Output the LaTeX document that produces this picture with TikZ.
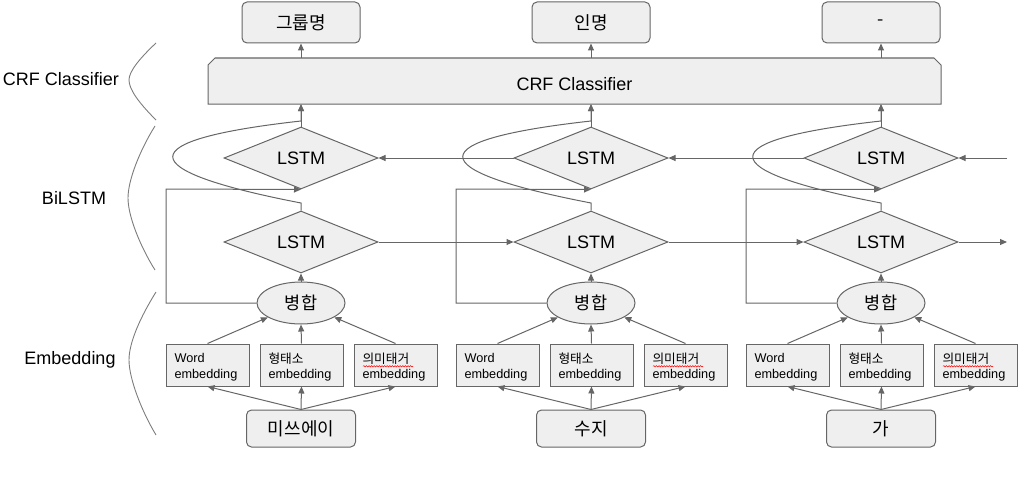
\documentclass[tikz,border=0pt]{standalone}
\usepackage{fontspec}
\setmainfont{Liberation Sans}
\newfontfamily\kr{Noto Sans CJK KR}
\usetikzlibrary{shapes.geometric,arrows.meta,decorations.pathmorphing}
\definecolor{lc}{RGB}{102,102,102}
\definecolor{fc}{RGB}{239,239,239}
\begin{document}
\begin{tikzpicture}[x=1pt,y=-1pt,
  ln/.style={draw=lc,line width=1pt},
  arr/.style={ln,-{Triangle[length=7pt,width=6pt]}},
  big/.style={font=\fontsize{18}{21}\selectfont},
  outbox/.style={draw=lc,line width=1pt,fill=fc,rounded corners=5pt,minimum width=118pt,minimum height=41pt,inner sep=0pt,font=\kr\fontsize{18}{21}\selectfont},
  inbox/.style={draw=lc,line width=1pt,fill=fc,rounded corners=5pt,minimum width=109pt,minimum height=37pt,inner sep=0pt,font=\kr\fontsize{18}{21}\selectfont},
  lstm/.style={diamond,draw=lc,line width=1pt,fill=fc,minimum width=154pt,minimum height=62pt,inner sep=0pt,aspect=2.48,big},
  merge/.style={ellipse,draw=lc,line width=1pt,fill=fc,minimum width=88pt,minimum height=42pt,inner sep=0pt,font=\kr\fontsize{17.5}{20}\selectfont},
  emb/.style={rectangle,draw=lc,line width=1pt,fill=fc,minimum width=83pt,minimum height=42pt,inner sep=0pt},
  embt/.style={text width=66pt,align=left,inner sep=0pt,font=\fontsize{12.7}{15.5}\selectfont},
  brace/.style={draw=lc!85,line width=0.9pt},
  wavy/.style={draw=red,line width=0.5pt,decorate,decoration={snake,amplitude=0.7pt,segment length=2.6pt}}
]
\useasboundingbox (0,0) rectangle (1024,495);

% CRF classifier box
\draw[ln,fill=fc] (208,104) -- (208,65) -- (215,58) -- (934,58) -- (941,65) -- (941,104) -- cycle;
\node[big,minimum width=733pt,minimum height=46pt,inner sep=0pt] (crf) at (574.5,81) {};
\node[big] (crft) at (574.5,84) {CRF Classifier};

% left labels and braces
\node[big] (lab1) at (61,79) {CRF Classifier};
\node[big] (lab2) at (74,198) {BiLSTM};
\node[big] (lab3) at (70,360) {Embedding};
\draw[brace] (156,43) .. controls (138,60) and (129,72) .. (129,80) .. controls (129,89) and (138,102) .. (156,120);
\draw[brace] (155,126) .. controls (140,150) and (128,180) .. (128,198) .. controls (128,216) and (140,246) .. (155,270);
\draw[brace] (156,292) .. controls (141,316) and (129,342) .. (129,360) .. controls (129,378) and (141,410) .. (156,435);

\foreach \i/\cx/\inp/\outp in {1/301/미쓰에이/그룹명, 2/591/수지/인명, 3/881/가/-} {
  \node[outbox] (o\i) at (\cx,22.5) {\outp};
  \node[lstm] (b\i) at (\cx,158) {LSTM};
  \node[lstm] (f\i) at (\cx,242) {LSTM};
  \node[merge] (m\i) at (\cx,303) {병합};
  \node[emb] (w\i) at (\cx-93.5,365) {};
  \node[emb] (s\i) at (\cx+0.5,365) {};
  \node[emb] (t\i) at (\cx+94.5,365) {};
  \node[embt] (wt\i) at ([yshift=-2pt]w\i.center) {Word\\embedding};
  \node[embt] (st\i) at ([yshift=-2pt]s\i.center) {{\kr 형태소}\\embedding};
  \node[embt] (tt\i) at ([yshift=-2pt]t\i.center) {{\kr 의미태거}\\embedding};
  \node[inbox] (in\i) at (\cx,428.5) {\inp};
  \draw[wavy] (\cx+62,366.3) -- (\cx+112,366.3);
  % connectors
  \draw[arr] (crf.north -| o\i) -- (o\i.south);
  \draw[arr] (b\i.north) -- (b\i.north |- crf.south);
  \draw[arr] (f\i.north) -- (\cx,203) .. controls (\cx-171,170) and (\cx-171,140) .. (\cx,121) -- (b\i.north |- crf.south);
  \draw[arr] (m\i.west) -| (\cx-135,189) -- (b\i.south);
  \draw[arr] (m\i.north) -- (f\i.south);
  \draw[arr] (w\i.north) -- (m\i);
  \draw[arr] (s\i.north) -- (m\i.south);
  \draw[arr] (t\i.north) -- (m\i);
  \draw[arr] (in\i.north) -- (w\i.south);
  \draw[arr] (in\i.north) -- (s\i.south);
  \draw[arr] (in\i.north) -- (t\i.south);
}
\coordinate (fe) at (1007,242);
\coordinate (be) at (1007,158);
\draw[arr] (f1.east) -- (f2.west);
\draw[arr] (f2.east) -- (f3.west);
\draw[arr] (f3.east) -- (fe);
\draw[arr] (be) -- (b3.east);
\draw[arr] (b3.west) -- (b2.east);
\draw[arr] (b2.west) -- (b1.east);
\end{tikzpicture}
\end{document}
